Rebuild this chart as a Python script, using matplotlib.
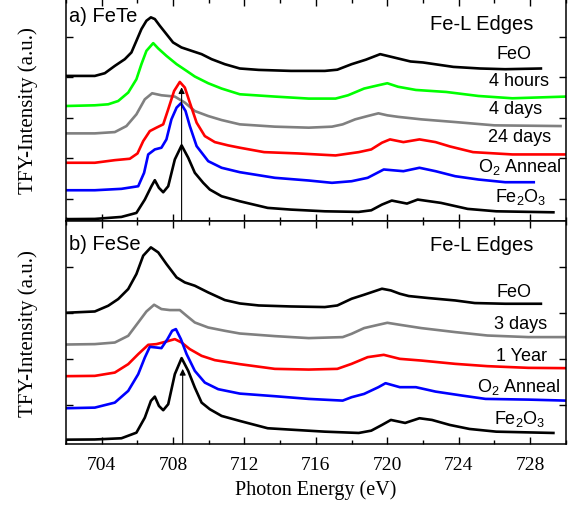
import matplotlib
matplotlib.use("Agg")
import matplotlib.pyplot as plt
from matplotlib.ticker import MultipleLocator

plt.rcParams['font.family'] = ['Liberation Sans', 'DejaVu Sans']
plt.rcParams['mathtext.default'] = 'regular'

# ---- (a) FeTe, intensities in arbitrary units (offset stack as in the figure)
feo_a_e = [702.0, 703.62, 704.18, 704.74, 705.3, 705.67, 705.95, 706.23, 706.51, 706.76, 706.98,
           707.26, 707.63, 708.0, 708.47, 709.04, 709.6, 710.16, 710.9, 711.74, 712.8, 714.6,
           716.5, 717.2, 718.0, 718.8, 719.6, 720.3, 721.3, 722.0, 723.7, 725.2, 726.6, 728.6]
feo_a_i = [144.3, 144.3, 147, 154.3, 161, 167.7, 179.3, 191, 199.3, 202.7, 201,
           194.3, 186, 177.7, 172.7, 169.3, 166, 161, 156, 151.7, 150.3, 149.3,
           149.3, 150.5, 156, 160.5, 166, 163, 158.7, 157.7, 153.3, 151.7, 151, 151.7]

h4_a_e = [702.0, 703.62, 704.37, 704.93, 705.49, 705.95, 706.23, 706.51, 706.89, 707.17, 707.63,
          708.2, 708.76, 709.22, 709.97, 710.72, 711.74, 713.7, 715.6, 717.1, 717.8, 718.7,
          719.5, 720.0, 720.6, 721.6, 723.3, 725.1, 727.0, 730.0]
h4_a_i = [114.3, 115, 116, 119.3, 127.7, 141, 156, 169.3, 177, 171.7, 164.3,
          156, 149.3, 143.7, 137, 131.7, 126, 123.7, 121.7, 121.7, 125, 131.7,
          135, 137, 133.5, 130.3, 128.3, 124.3, 122, 123.7]

d4_a_e = [702.0, 703.62, 704.74, 705.39, 705.95, 706.42, 706.83, 707.35, 708.1, 708.66, 709.22,
          709.97, 710.72, 711.74, 713.7, 715.6, 716.9, 717.5, 718.2, 718.9, 719.5, 720.0,
          720.6, 721.9, 723.8, 726.0, 729.7]
d4_a_i = [87, 87, 88.3, 94.3, 106, 121, 127, 125, 123.7, 117.7, 109.3,
          104.3, 100.3, 96, 93.7, 92.7, 93.7, 96, 101, 104.3, 107, 105,
          103.5, 101, 98.3, 95, 94.3]

d24_a_e = [702.0, 703.62, 704.74, 705.58, 706.01, 706.33, 706.7, 707.07, 707.45, 707.73, 708.06,
           708.38, 708.66, 708.94, 709.32, 709.78, 710.34, 711.09, 711.74, 713.1, 715.0, 717.1,
           718.4, 719.1, 719.7, 720.15, 720.9, 721.8, 722.7, 723.5, 724.8, 727.0, 730.0]
d24_a_i = [57.7, 57.7, 60.3, 61.7, 67, 79.3, 89.3, 92.7, 96, 111, 129.3,
           138.3, 132.7, 117.7, 97.7, 84.3, 78.3, 75, 72.7, 68.3, 67, 65,
           68.3, 71, 77.7, 81, 78.3, 81, 78.3, 74, 68.3, 66, 66]

o2_a_e = [702.0, 703.62, 705.11, 706.05, 706.38, 706.61, 706.98, 707.35, 707.63, 707.91, 708.2,
          708.44, 708.7, 708.94, 709.32, 709.97, 710.72, 711.74, 713.7, 715.6, 716.9, 718.0,
          718.9, 719.8, 720.9, 721.8, 722.7, 723.8, 725.1, 726.6, 728.2]
o2_a_i = [30.3, 30.3, 31.7, 34.3, 47.7, 66, 71, 72.7, 81, 101, 112.7,
          117, 109.3, 94.3, 74.3, 59.3, 52.7, 48.3, 42.7, 40, 37.7, 39.3,
          42.7, 51, 49.3, 52.7, 49.3, 44.3, 41, 38.3, 38.3]

fe2o3_a_e = [702.0, 703.62, 705.11, 705.95, 706.42, 706.79, 706.98, 707.21, 707.45, 707.73, 708.1,
             708.48, 708.85, 709.22, 709.69, 710.06, 710.72, 711.74, 713.3, 714.6, 716.5, 718.4,
             719.1, 719.7, 720.25, 721.1, 721.7, 723.0, 724.5, 726.1, 729.3]
fe2o3_a_i = [1.5, 1.7, 3.7, 7.7, 21, 34.3, 40.3, 32.7, 28.3, 34.3, 61,
             75, 62.7, 47.7, 37.7, 31, 24.3, 19.3, 12.7, 11, 9.3, 8.7,
             10.3, 16, 20, 17, 21, 17.7, 11.7, 9.3, 8.3]

# ---- (b) FeSe
feo_b_e = [702.0, 703.62, 704.37, 704.93, 705.49, 705.95, 706.33, 706.76, 707.17, 707.63, 708.2,
           708.66, 709.22, 709.97, 710.9, 711.74, 712.8, 714.6, 716.5, 717.2, 718.0, 718.7,
           719.7, 720.2, 720.7, 721.2, 722.3, 723.8, 724.9, 726.6, 728.6]
feo_b_i = [131, 132.3, 138, 144.7, 154.7, 169.7, 188, 196.3, 191.3, 179.7, 166.3,
           161.3, 158, 151.3, 143.7, 140.3, 138.3, 137.3, 136.7, 138.3, 145, 149,
           155, 153.3, 150, 147.7, 145.7, 143.3, 140.7, 140, 140]

d3_b_e = [702.0, 703.62, 704.74, 705.49, 706.05, 706.51, 706.94, 707.35, 707.82, 708.38, 708.76,
          709.22, 709.97, 710.9, 711.74, 713.7, 715.6, 717.5, 718.0, 718.7, 719.5, 720.0,
          720.7, 721.9, 723.8, 725.6, 727.9, 730.0]
d3_b_i = [99.3, 99.7, 101.3, 108, 121.3, 132.3, 139, 134.7, 133.7, 133.7, 128,
          121.3, 116.3, 113, 110.3, 107.7, 105.7, 106.7, 110, 115.7, 119, 121,
          119, 115.7, 111.7, 108.3, 106.7, 106.7]

y1_b_e = [702.0, 703.62, 704.74, 705.49, 706.05, 706.61, 707.07, 707.63, 708.1, 708.48, 708.94,
          709.6, 710.34, 711.74, 713.7, 715.6, 717.2, 718.0, 718.9, 719.8, 720.7, 721.9,
          723.8, 725.6, 727.9, 730.0]
y1_b_i = [67.7, 68, 71.3, 79.7, 89.7, 99, 99.7, 102.3, 104.7, 101.3, 94.7,
          88, 83.7, 79.7, 75, 74.3, 75, 80, 86.7, 89, 85, 83.3,
          80, 77.7, 76, 75.7]

o2_b_e = [702.0, 703.62, 704.74, 705.49, 706.05, 706.42, 706.7, 707.07, 707.35, 707.69, 707.95,
          708.16, 708.44, 708.76, 709.22, 709.78, 710.53, 711.74, 713.7, 715.6, 717.5, 718.0,
          718.7, 719.5, 719.9, 720.7, 721.6, 722.7, 724.2, 725.5, 727.9, 730.0]
o2_b_i = [35.7, 36.3, 41.3, 53, 69.7, 86.3, 97, 96.3, 95.7, 104.7, 113,
          114.7, 104.7, 89.7, 73, 61.3, 54.7, 50.3, 47.7, 45, 43.3, 46.7,
          50, 56.7, 60.7, 56.7, 56.7, 52.3, 48.3, 45, 44.3, 43.3]

fe2o3_b_e = [702.0, 703.62, 705.11, 705.95, 706.42, 706.76, 706.98, 707.21, 707.45, 707.73, 708.1,
             708.48, 708.85, 709.22, 709.6, 710.06, 710.72, 711.74, 713.3, 714.6, 716.5, 718.4,
             719.1, 719.7, 720.2, 721.0, 721.8, 722.5, 723.5, 724.6, 726.1, 729.3]
fe2o3_b_i = [4.3, 4.5, 5.7, 11.3, 26.3, 43, 47.3, 38, 33.7, 39.7, 69.7,
             85.7, 73, 56.3, 41.3, 34.7, 28, 23, 15.7, 14.3, 12.3, 11,
             13.3, 19, 24, 21, 25.7, 24, 19, 15, 12.3, 11]

labels_a = ['FeO', '4 hours', '4 days', '24 days', r'O$_2$ Anneal', r'Fe$_2$O$_3$']
labels_b = ['FeO', '3 days', '1 Year', r'O$_2$ Anneal', r'Fe$_2$O$_3$']
colors_a = ['black', '#00ff00', '#808080', 'red', 'blue', 'black']
colors_b = ['black', '#808080', 'red', 'blue', 'black']

series_a = [(feo_a_e, feo_a_i), (h4_a_e, h4_a_i), (d4_a_e, d4_a_i),
            (d24_a_e, d24_a_i), (o2_a_e, o2_a_i), (fe2o3_a_e, fe2o3_a_i)]
series_b = [(feo_b_e, feo_b_i), (d3_b_e, d3_b_i), (y1_b_e, y1_b_i),
            (o2_b_e, o2_b_i), (fe2o3_b_e, fe2o3_b_i)]

# label anchors (right edge x, centre y) in data coords
lab_pos_a = [(728.1, 166.3), (729.06, 139.3), (728.65, 112), (729.17, 84), (729.77, 54.3), (728.93, 25)]
lab_pos_b = [(728.1, 152.7), (728.93, 120), (728.93, 88.7), (729.7, 58), (728.87, 25.7)]

fig = plt.figure(figsize=(5.68, 5.06), dpi=100)
ax1 = fig.add_axes([0.116, 0.562, 0.8803, 0.438])
ax2 = fig.add_axes([0.116, 0.1206, 0.8803, 0.4414])

serif = ['Liberation Serif', 'DejaVu Serif']

for ax, series, colors, labels, pos, ylim, yt, tag, tag_y, peak in [
        (ax1, series_a, colors_a, labels_a, lab_pos_a, (0, 221),
         [22, 62.3, 102.6, 142.9, 183.2], 'a) FeTe', 204.3, (708.48, 133)),
        (ax2, series_b, colors_b, labels_b, lab_pos_b, (0, 223),
         [39.3, 85, 130.7, 176.7], 'b) FeSe', 200, (708.54, 75))]:
    for (e, i), c in zip(series, colors):
        ax.plot(e, i, color=c, lw=1.9, solid_joinstyle='round')
    for lab, (x, y) in zip(labels, pos):
        ax.text(x, y, lab, ha='right', va='center', fontsize=13)
    ax.text(728.2, ylim[1] - 24, 'Fe-L Edges', ha='right', va='center', fontsize=14.5)
    ax.text(702.19, tag_y, tag, ha='left', va='center', fontsize=14.5)
    ax.annotate('', xy=peak, xytext=(peak[0], 0),
                arrowprops=dict(arrowstyle='-|>', color='black', lw=0.8,
                                mutation_scale=9, shrinkA=0, shrinkB=0))
    ax.set_xlim(702, 730)
    ax.set_ylim(*ylim)
    ax.set_yticks(yt)
    ax.xaxis.set_major_locator(MultipleLocator(4))
    ax.xaxis.set_minor_locator(MultipleLocator(2))
    ax.tick_params(which='both', direction='in', top=True, right=True, width=1)
    ax.tick_params(which='major', length=5)
    ax.tick_params(which='minor', length=3)
    ax.tick_params(axis='y', labelleft=False)
    for s in ax.spines.values():
        s.set_linewidth(1.1)
    ax.set_ylabel('TFY-Intensity (a.u.)', family=serif, fontsize=15)
    ax.yaxis.set_label_coords(-0.056, 0.5)

ax1.tick_params(axis='x', labelbottom=False)
ax2.tick_params(axis='x', labelsize=14, pad=9)
for t in ax2.get_xticklabels():
    t.set_family(serif)
ax2.set_xlabel('Photon Energy (eV)', family=serif, fontsize=14.5)
ax2.xaxis.set_label_coords(0.5, -0.16)

fig.savefig('out.png', dpi=100)
